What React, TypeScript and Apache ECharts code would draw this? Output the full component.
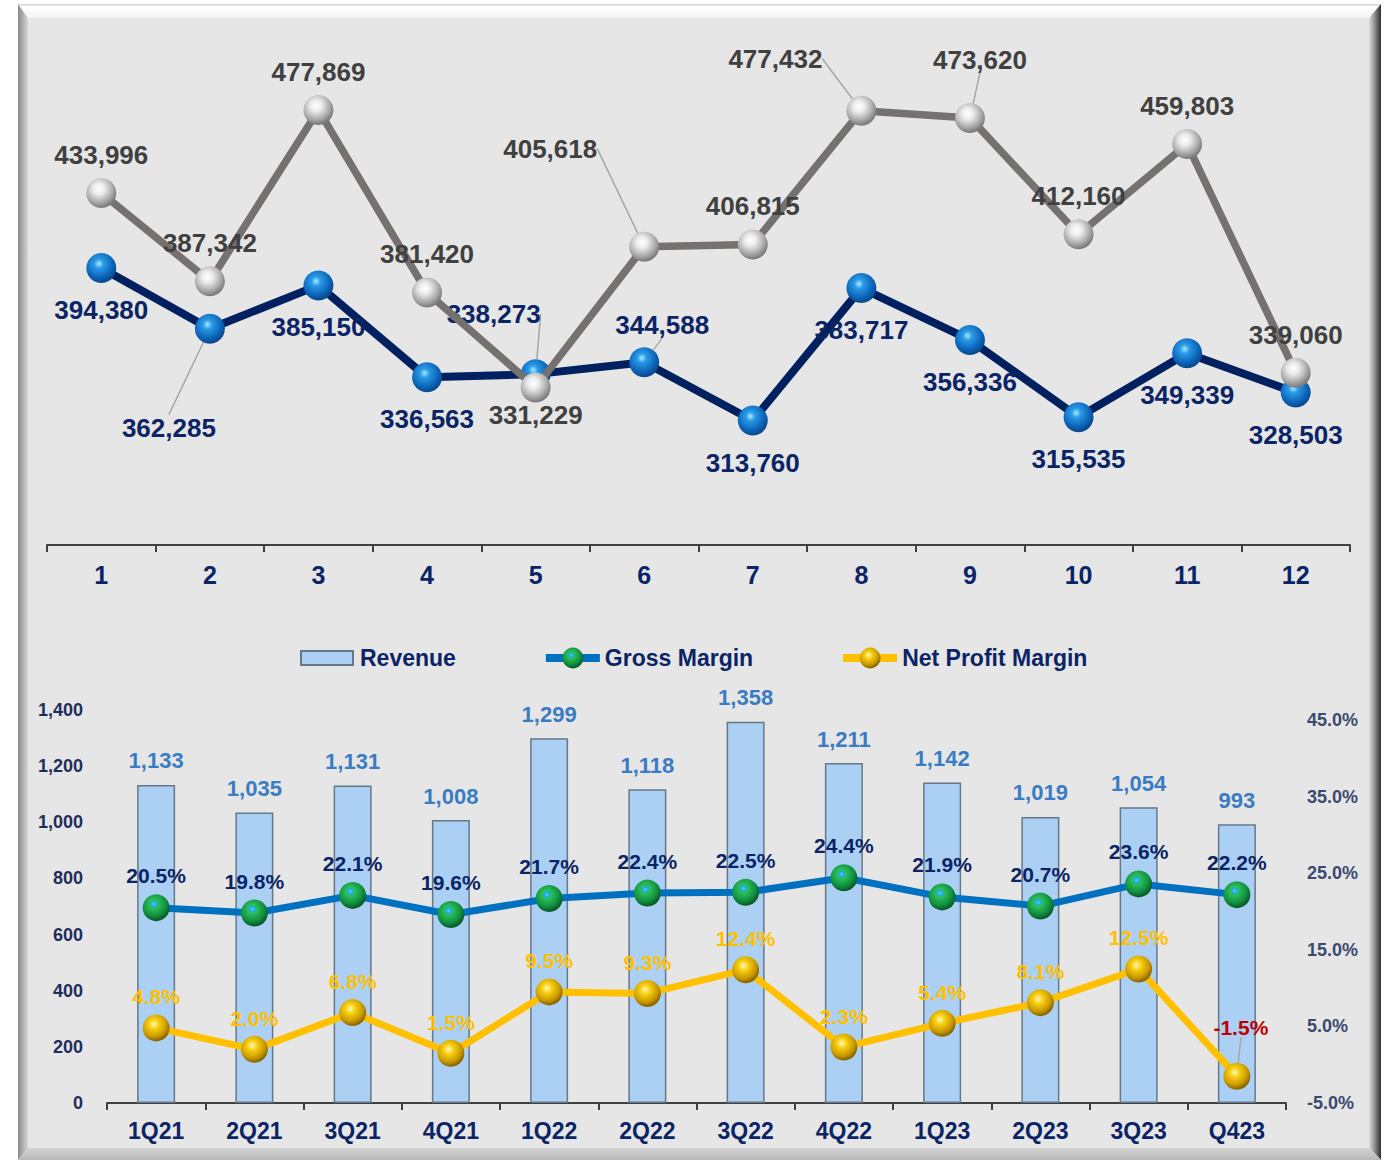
import React, { useEffect, useRef } from 'react';
import * as echarts from 'echarts';

// ---------- DATA ----------
const monthCategories = ['1', '2', '3', '4', '5', '6', '7', '8', '9', '10', '11', '12'];
const greySeriesValues = [433996, 387342, 477869, 381420, 331229, 405618, 406815, 477432, 473620, 412160, 459803, 339060];
const navySeriesValues = [394380, 362285, 385150, 336563, 338273, 344588, 313760, 383717, 356336, 315535, 349339, 328503];

const quarterCategories = ['1Q21', '2Q21', '3Q21', '4Q21', '1Q22', '2Q22', '3Q22', '4Q22', '1Q23', '2Q23', '3Q23', 'Q423'];
const revenueValues = [1133, 1035, 1131, 1008, 1299, 1118, 1358, 1211, 1142, 1019, 1054, 993];
const grossMarginValues = [20.5, 19.8, 22.1, 19.6, 21.7, 22.4, 22.5, 24.4, 21.9, 20.7, 23.6, 22.2];
const netProfitMarginValues = [4.8, 2.0, 6.8, 1.5, 9.5, 9.3, 12.4, 2.3, 5.4, 8.1, 12.5, -1.5];

// ---------- LABEL PLACEMENT (styling only) ----------
const greyLabelPosition = ['top', 'top', 'top', 'top', 'bottom', 'top', 'top', 'top', 'top', 'top', 'top', 'top'];
const greyLabelDistance = [10, 10, 10, 10, 0, 10, 10, 10, 10, 10, 10, 10];
const greyLeaderShift: Record<number, [number, number]> = { 5: [-94, -60], 7: [-86, -14], 8: [10, -20] };

const navyLabelPosition = ['bottom', 'bottom', 'bottom', 'bottom', 'top', 'top', 'bottom', 'bottom', 'bottom', 'bottom', 'bottom', 'bottom'];
const navyLabelDistance = [14, 14, 14, 14, 10, 10, 14, 14, 14, 14, 14, 14];
const navyLeaderShift: Record<number, [number, number]> = { 1: [-41, 57], 4: [-42, -22], 5: [18, 1] };

const netLeaderShift: Record<number, [number, number]> = { 11: [4, -18] };

const FONT = '"Liberation Sans", Arial, Helvetica, sans-serif';
const NAVY_TEXT = '#0b2465';

const radial = (stops: [number, string][]) => ({
  type: 'radial',
  x: 0.42,
  y: 0.36,
  r: 0.62,
  colorStops: stops.map(([offset, color]) => ({ offset, color })),
});

const greySphere = radial([[0, '#ffffff'], [0.3, '#ececec'], [0.75, '#a8a8a8'], [1, '#7c7c7c']]);
const blueSphere = radial([[0, '#a8ecff'], [0.25, '#2a9ae6'], [0.75, '#0b63b8'], [1, '#0a4a8e']]);
const greenSphere = radial([[0, '#48d8ff'], [0.16, '#1fa6e0'], [0.26, '#2cbf58'], [0.72, '#109040'], [1, '#0a5a26']]);
const goldSphere = radial([[0, '#fff7b8'], [0.3, '#f7cf10'], [0.75, '#c99800'], [1, '#8a6600']]);

const leaderLayout = (shifts: Record<number, [number, number]>) => (params: any) => {
  const s = shifts[params.dataIndex];
  if (!s) return {};
  return {
    x: params.labelRect.x + s[0],
    y: params.labelRect.y + s[1],
    align: 'left',
    verticalAlign: 'top',
  };
};

const fmtThousands = (v: number) => v.toLocaleString('en-US');

function buildOption() {
  const greyData = greySeriesValues.map((v, i) => ({
    value: v,
    label: { position: greyLabelPosition[i], distance: greyLabelDistance[i] },
    labelLine: { show: !!greyLeaderShift[i] },
  }));
  const navyData = navySeriesValues.map((v, i) => ({
    value: v,
    label: { position: navyLabelPosition[i], distance: navyLabelDistance[i] },
    labelLine: { show: !!navyLeaderShift[i] },
  }));
  const netData = netProfitMarginValues.map((v, i) => ({
    value: v,
    label: v < 0 ? { color: '#c00000' } : {},
    labelLine: { show: !!netLeaderShift[i] },
  }));

  const leaderLineStyle = { color: '#a6a6a6', width: 1.5 };

  return {
    animation: false,
    backgroundColor: '#ffffff',
    graphic: {
      elements: [
        { type: 'rect', silent: true, z: 0, shape: { x: 28, y: 18, width: 1341, height: 1130 }, style: { fill: '#e6e6e6' } },
        {
          type: 'polygon', silent: true, z: 0,
          shape: { points: [[18, 4], [1381, 4], [1369, 18], [28, 18]] },
          style: { fill: { type: 'linear', x: 0, y: 0, x2: 0, y2: 1, colorStops: [{ offset: 0, color: '#cfcfcf' }, { offset: 0.2, color: '#ffffff' }, { offset: 1, color: '#f3f3f3' }] } },
        },
        {
          type: 'polygon', silent: true, z: 0,
          shape: { points: [[18, 4], [28, 18], [28, 1148], [18, 1160]] },
          style: { fill: { type: 'linear', x: 0, y: 0, x2: 1, y2: 0, colorStops: [{ offset: 0, color: '#8a8a8a' }, { offset: 1, color: '#d6d6d6' }] } },
        },
        {
          type: 'polygon', silent: true, z: 0,
          shape: { points: [[1381, 4], [1381, 1160], [1369, 1148], [1369, 18]] },
          style: { fill: { type: 'linear', x: 0, y: 0, x2: 1, y2: 0, colorStops: [{ offset: 0, color: '#dadada' }, { offset: 0.4, color: '#9c9c9c' }, { offset: 1, color: '#2e2e2e' }] } },
        },
        {
          type: 'polygon', silent: true, z: 0,
          shape: { points: [[28, 1148], [1369, 1148], [1381, 1160], [18, 1160]] },
          style: { fill: { type: 'linear', x: 0, y: 0, x2: 0, y2: 1, colorStops: [{ offset: 0, color: '#d2d2d2' }, { offset: 1, color: '#b8b8b8' }] } },
        },
      ],
    },
    legend: {
      left: 295,
      top: 639,
      itemWidth: 54,
      itemHeight: 26,
      itemGap: 86,
      lineStyle: { width: 8 },
      data: [
        { name: 'Revenue', icon: 'path://M0,0 M0,6 L52,6 L52,20 L0,20 Z M54,26' },
        'Gross Margin',
        'Net Profit Margin',
      ],
      textStyle: { color: NAVY_TEXT, fontWeight: 'bold', fontSize: 23, fontFamily: FONT },
    },
    grid: [
      { left: 47, right: 35, top: 68, height: 477 },
      { left: 107, right: 99, top: 710, height: 393 },
    ],
    xAxis: [
      {
        type: 'category', gridIndex: 0, data: monthCategories, boundaryGap: true,
        axisLine: { lineStyle: { color: '#404040', width: 2 } },
        axisTick: { show: true, length: 7, lineStyle: { color: '#404040', width: 2 } },
        axisLabel: { color: NAVY_TEXT, fontWeight: 'bold', fontSize: 25, fontFamily: FONT, margin: 17 },
        splitLine: { show: false },
      },
      {
        type: 'category', gridIndex: 1, data: quarterCategories, boundaryGap: true,
        axisLine: { lineStyle: { color: '#404040', width: 2 } },
        axisTick: { show: true, length: 7, lineStyle: { color: '#404040', width: 2 } },
        axisLabel: { color: NAVY_TEXT, fontWeight: 'bold', fontSize: 23, fontFamily: FONT, margin: 16 },
        splitLine: { show: false },
      },
    ],
    yAxis: [
      { type: 'value', gridIndex: 0, min: 248000, max: 500000, show: false, splitLine: { show: false } },
      {
        type: 'value', gridIndex: 1, min: 0, max: 1400, interval: 200,
        axisLine: { show: false }, axisTick: { show: false }, splitLine: { show: false },
        axisLabel: { formatter: (v: number) => fmtThousands(v), color: '#1f2d5e', fontWeight: 'bold', fontSize: 18, fontFamily: FONT, margin: 24 },
      },
      {
        type: 'value', gridIndex: 1, position: 'right', min: -5, max: 46.3, interval: 10,
        axisLine: { show: false }, axisTick: { show: false }, splitLine: { show: false },
        axisLabel: {
          formatter: (v: number) => {
            const k = (v + 5) / 10;
            return Math.abs(k - Math.round(k)) < 1e-6 ? v.toFixed(1) + '%' : '';
          },
          color: '#3b4a6e', fontWeight: 'bold', fontSize: 18, fontFamily: FONT, margin: 21,
        },
      },
    ],
    series: [
      {
        name: 'Series B', type: 'line', xAxisIndex: 0, yAxisIndex: 0, data: navyData,
        symbol: 'circle', symbolSize: 30,
        lineStyle: { color: '#002060', width: 8 },
        itemStyle: { color: blueSphere },
        label: { show: true, formatter: (p: any) => fmtThousands(p.value), color: NAVY_TEXT, fontWeight: 'bold', fontSize: 26, fontFamily: FONT },
        labelLine: { show: false, lineStyle: leaderLineStyle },
        labelLayout: leaderLayout(navyLeaderShift),
        z: 3,
      },
      {
        name: 'Series A', type: 'line', xAxisIndex: 0, yAxisIndex: 0, data: greyData,
        symbol: 'circle', symbolSize: 30,
        lineStyle: { color: '#767171', width: 7.5 },
        itemStyle: { color: greySphere },
        label: { show: true, formatter: (p: any) => fmtThousands(p.value), color: '#404040', fontWeight: 'bold', fontSize: 26, fontFamily: FONT },
        labelLine: { show: false, lineStyle: leaderLineStyle },
        labelLayout: leaderLayout(greyLeaderShift),
        z: 4,
      },
      {
        name: 'Revenue', type: 'bar', xAxisIndex: 1, yAxisIndex: 1, data: revenueValues, barWidth: 38,
        itemStyle: { color: '#abd0f4', borderColor: '#66778a', borderWidth: 1.5 },
        label: { show: true, position: 'top', distance: 13, formatter: (p: any) => fmtThousands(p.value), color: '#3a7cc3', fontWeight: 'bold', fontSize: 22, fontFamily: FONT },
        z: 2,
      },
      {
        name: 'Gross Margin', type: 'line', xAxisIndex: 1, yAxisIndex: 2, data: grossMarginValues,
        symbol: 'circle', symbolSize: 27,
        lineStyle: { color: '#0070c0', width: 7 },
        itemStyle: { color: greenSphere },
        label: { show: true, position: 'top', distance: 8, formatter: (p: any) => p.value.toFixed(1) + '%', color: NAVY_TEXT, fontWeight: 'bold', fontSize: 21, fontFamily: FONT },
        z: 4,
      },
      {
        name: 'Net Profit Margin', type: 'line', xAxisIndex: 1, yAxisIndex: 2, data: netData,
        symbol: 'circle', symbolSize: 27,
        lineStyle: { color: '#ffc000', width: 7 },
        itemStyle: { color: goldSphere },
        label: { show: true, position: 'top', distance: 7, formatter: (p: any) => p.value.toFixed(1) + '%', color: '#ffc000', fontWeight: 'bold', fontSize: 21, fontFamily: FONT },
        labelLine: { show: false, lineStyle: leaderLineStyle },
        labelLayout: leaderLayout(netLeaderShift),
        z: 4,
      },
    ],
  };
}

export default function App() {
  const ref = useRef<HTMLDivElement>(null);
  useEffect(() => {
    document.body.style.margin = '0';
    if (!ref.current) return;
    const chart = echarts.init(ref.current, undefined, { renderer: 'svg' });
    chart.setOption(buildOption() as any);
    return () => chart.dispose();
  }, []);
  return <div ref={ref} style={{ width: 1385, height: 1160 }} />;
}
